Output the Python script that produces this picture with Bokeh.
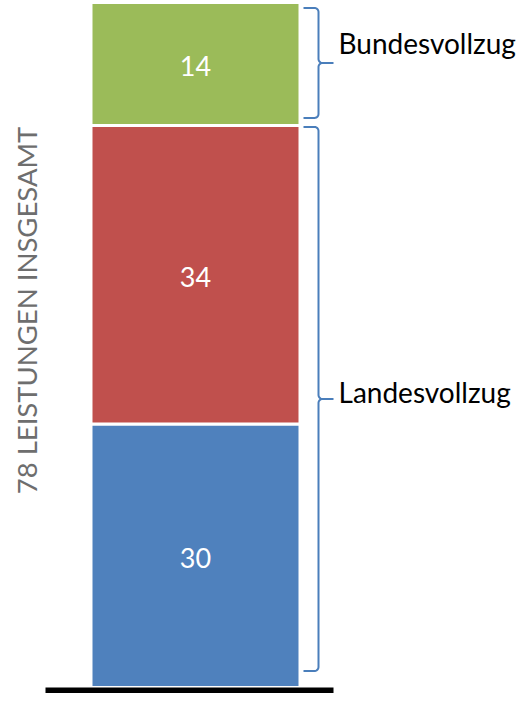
import numpy as np
from bokeh.plotting import figure
from bokeh.models import Range1d, ColumnDataSource
from bokeh.core.properties import value
from bokeh.embed import file_html
from bokeh.resources import INLINE

# ---- data ----
segments = ["Landesvollzug A", "Landesvollzug B", "Bundesvollzug"]
counts = [30, 34, 14]
colors = ["#4F81BD", "#C0504D", "#9BBB59"]
group_labels = ["Bundesvollzug", "Landesvollzug"]
group_spans = [(64, 78), (0, 64)]
total = sum(counts)
ylabel_text = f"{total} LEISTUNGEN INSGESAMT"

# ---- layout (pixels) ----
W, H = 517, 693
base_px = 687          # canvas y of value 0
top_px = 2             # canvas y of total
k = (base_px - top_px) / total    # px per unit
y_start = -(H - base_px) / k
y_end = total + top_px / k

p = figure(width=W, height=H, output_backend="svg", toolbar_location=None,
           x_range=Range1d(0, W), y_range=Range1d(y_start, y_end),
           min_border=0, outline_line_color=None)
p.axis.visible = False
p.grid.visible = False
p.background_fill_color = "white"
p.border_fill_color = "white"

tops = np.cumsum(counts)
bottoms = tops - np.array(counts)
src = ColumnDataSource(dict(bottom=bottoms, top=tops, color=colors,
                            mid=(bottoms + tops) / 2,
                            label=[str(c) for c in counts]))
bar_x = 195
p.vbar(x=bar_x, width=209, bottom="bottom", top="top", fill_color="color",
       line_color="white", line_width=3, source=src)
p.text(x=bar_x, y="mid", text="label", source=src, text_color="white",
       text_font=value("Lato"), text_font_size="27px",
       text_align="center", text_baseline="middle", y_offset=2)

# baseline
p.quad(left=45, right=333, top=0, bottom=-6.5 / k, fill_color="black",
       line_color=None)

# braces
def brace(y_top, y_bot, x_hook=303, x_spine=318, x_tip=333, r=4):
    rv = r / k
    mid = (y_top + y_bot) / 2
    t = np.linspace(0, np.pi / 2, 8)
    xs, ys = [x_hook], [y_top]
    xs += list(x_spine - r + r * np.sin(t)); ys += list(y_top - rv + rv * np.cos(t))
    xs += list(x_spine + r - r * np.cos(t)); ys += list(mid + rv - rv * np.sin(t))
    xs += [x_tip]; ys += [mid]
    xs += list(x_spine + r - r * np.cos(t[::-1])); ys += list(mid - rv + rv * np.sin(t[::-1]))
    xs += list(x_spine - r + r * np.sin(t[::-1])); ys += list(y_bot + rv - rv * np.cos(t[::-1]))
    xs += [x_hook]; ys += [y_bot]
    return xs, ys, mid

pads = [(4, 6), (0, 15)]   # px inset top/bottom
offsets = [-20, -7]        # label centre relative to brace tip, px
for (lo, hi), (pt, pb), lab, off in zip(group_spans, pads, group_labels, offsets):
    xs, ys, mid = brace(hi - (pt + 1.5) / k, lo + (pb + 1.5) / k)
    p.line(xs, ys, line_color="#4A7EBB", line_width=2)
    p.text(x=[338], y=[mid], text=[lab], text_color="black",
           text_font=value("Lato"), text_font_size="28px",
           text_align="left", text_baseline="middle", y_offset=off)

# rotated y label
p.text(x=[26], y=[(base_px - 310) / k], text=[ylabel_text], angle=np.pi / 2,
       text_color="#6E6E6E", text_font=value("Lato"), text_font_size="27.5px",
       text_align="center", text_baseline="middle")

open("out.html", "w").write(file_html(p, INLINE))
